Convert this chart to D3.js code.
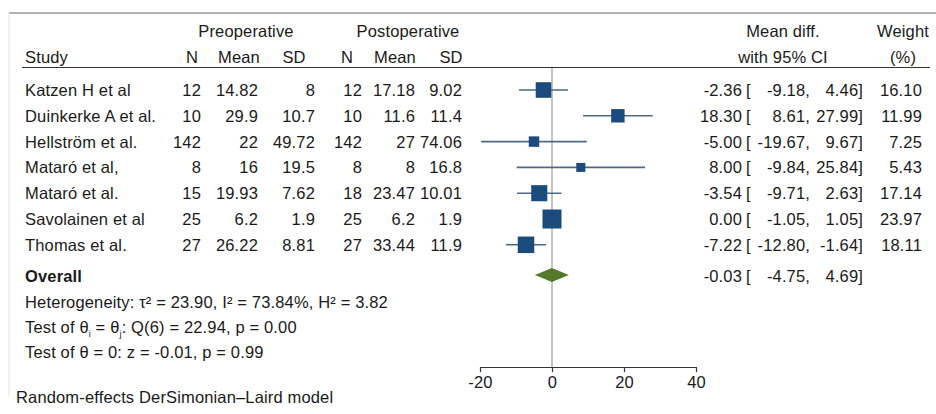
<!DOCTYPE html>
<html>
<head>
<meta charset="utf-8">
<script src="https://cdn.jsdelivr.net/npm/d3@7"></script>
<style>
  body { margin: 0; background: #fff; }
  svg text { font-family: "Liberation Sans", Arial, Helvetica, sans-serif; fill: #1a1a1a; letter-spacing: 0.15px; }
</style>
</head>
<body>
<div id="chart"></div>
<script>
const studies = ["Katzen H et al", "Duinkerke A et al.", "Hellström et al.", "Mataró et al,", "Mataró et al.", "Savolainen et al", "Thomas et al."];
const preN = [12, 10, 142, 8, 15, 25, 27];
const preMean = [14.82, 29.9, 22, 16, 19.93, 6.2, 26.22];
const preSD = [8, 10.7, 49.72, 19.5, 7.62, 1.9, 8.81];
const postN = [12, 10, 142, 8, 18, 25, 27];
const postMean = [17.18, 11.6, 27, 8, 23.47, 6.2, 33.44];
const postSD = [9.02, 11.4, 74.06, 16.8, 10.01, 1.9, 11.9];
const meanDiff = [-2.36, 18.30, -5.00, 8.00, -3.54, 0.00, -7.22];
const ciLow = [-9.18, 8.61, -19.67, -9.84, -9.71, -1.05, -12.80];
const ciHigh = [4.46, 27.99, 9.67, 25.84, 2.63, 1.05, -1.64];
const weights = [16.10, 11.99, 7.25, 5.43, 17.14, 23.97, 18.11];
const overall = [-0.03, -4.75, 4.69];
const xTicks = [-20, 0, 20, 40];

const width = 936, height = 414;
const fs = 16.5;

const svg = d3.select("#chart").append("svg")
  .attr("width", width)
  .attr("height", height);

// frame lines
svg.append("line").attr("x1", 9).attr("x2", width).attr("y1", 13).attr("y2", 13)
  .attr("stroke", "#666").attr("stroke-width", 1.2);
svg.append("line").attr("x1", 9).attr("x2", 9).attr("y1", 13).attr("y2", 396)
  .attr("stroke", "#e2e2e2").attr("stroke-width", 1);

const x = d3.scaleLinear().domain([-20, 40]).range([480, 696]);
const size = d3.scaleSqrt().domain([0, d3.max(weights)]).range([0, 19]);

const rowY = d3.scaleLinear().domain([0, 1]).range([96, 121.8]);
const overallY = 282;
const axisY = 367;

function txt(xp, yp, s, anchor, bold) {
  return svg.append("text")
    .attr("x", xp).attr("y", yp)
    .attr("text-anchor", anchor || "start")
    .attr("font-size", fs)
    .attr("font-weight", bold ? "bold" : "normal")
    .text(s);
}

// headers
txt(246, 37, "Preoperative", "middle");
txt(408, 37, "Postoperative", "middle");
txt(783, 37, "Mean diff.", "middle");
txt(903, 37, "Weight", "middle");
txt(25, 63, "Study");
txt(192, 63, "N", "middle");
txt(239, 63, "Mean", "middle");
txt(294, 63, "SD", "middle");
txt(347, 63, "N", "middle");
txt(395, 63, "Mean", "middle");
txt(451, 63, "SD", "middle");
txt(783, 63, "with 95% CI", "middle");
txt(903, 63, "(%)", "middle");

svg.append("line").attr("x1", 22).attr("x2", 930).attr("y1", 67.5).attr("y2", 67.5)
  .attr("stroke", "#333").attr("stroke-width", 1.2);

// null line
svg.append("line").attr("x1", x(0)).attr("x2", x(0)).attr("y1", 68).attr("y2", axisY)
  .attr("stroke", "#b4b4b4").attr("stroke-width", 1.6);

// table columns
const cols = [
  [preN, 201], [preMean, 258], [preSD, 315],
  [postN, 362], [postMean, 415], [postSD, 462]
];

studies.forEach((s, i) => {
  const y = rowY(i);
  txt(25, y, s);
  cols.forEach(([arr, cx]) => txt(cx, y, String(arr[i]), "end"));
  txt(742, y, meanDiff[i].toFixed(2), "end");
  txt(746, y, "[");
  txt(810, y, ciLow[i].toFixed(2) + ",", "end");
  txt(863, y, ciHigh[i].toFixed(2) + "]", "end");
  txt(922, y, weights[i].toFixed(2), "end");
});

// CI lines and squares
const rows = svg.append("g").selectAll("g").data(studies).join("g")
  .attr("transform", (d, i) => `translate(0,${rowY(i) - 6})`);

rows.append("line")
  .attr("x1", (d, i) => x(ciLow[i]))
  .attr("x2", (d, i) => x(ciHigh[i]))
  .attr("stroke", "#4e6a85").attr("stroke-width", 1.6);

rows.append("rect")
  .attr("x", (d, i) => x(meanDiff[i]) - size(weights[i]) / 2)
  .attr("y", (d, i) => -size(weights[i]) / 2)
  .attr("width", (d, i) => size(weights[i]))
  .attr("height", (d, i) => size(weights[i]))
  .attr("fill", "#1b4a7c");

// overall
txt(25, overallY, "Overall", "start", true);
const dy = overallY - 7;
svg.append("path")
  .attr("d", `M${x(overall[1])},${dy} L${x(overall[0])},${dy - 7} L${x(overall[2])},${dy} L${x(overall[0])},${dy + 7} Z`)
  .attr("fill", "#567a2c");
txt(742, overallY, overall[0].toFixed(2), "end");
txt(746, overallY, "[");
txt(810, overallY, overall[1].toFixed(2) + ",", "end");
txt(863, overallY, overall[2].toFixed(2) + "]", "end");

// stats
txt(25, 308, "Heterogeneity: τ² = 23.90, I² = 73.84%, H² = 3.82");

const t1 = svg.append("text").attr("x", 25).attr("y", 333).attr("font-size", fs);
t1.append("tspan").text("Test of θ");
t1.append("tspan").attr("dy", 4).attr("font-size", 9).text("i");
t1.append("tspan").attr("dy", -4).text(" = θ");
t1.append("tspan").attr("dy", 4).attr("font-size", 9).text("j");
t1.append("tspan").attr("dy", -4).text(": Q(6) = 22.94, p = 0.00");

txt(25, 358, "Test of θ = 0: z = -0.01, p = 0.99");

// axis
const axis = svg.append("g")
  .attr("transform", `translate(0,${axisY})`)
  .call(d3.axisBottom(x).tickValues(xTicks).tickFormat(d => String(d))
    .tickSize(5).tickSizeOuter(0).tickPadding(4));
axis.select(".domain").attr("stroke", "#333").attr("stroke-width", 1.2);
axis.selectAll(".tick line").attr("stroke", "#333").attr("stroke-width", 1.2);
axis.selectAll(".tick text")
  .attr("font-size", fs)
  .attr("font-family", "'Liberation Sans', Arial, sans-serif")
  .attr("fill", "#1a1a1a");

// footnote
txt(16, 403, "Random-effects DerSimonian–Laird model");
</script>
</body>
</html>
